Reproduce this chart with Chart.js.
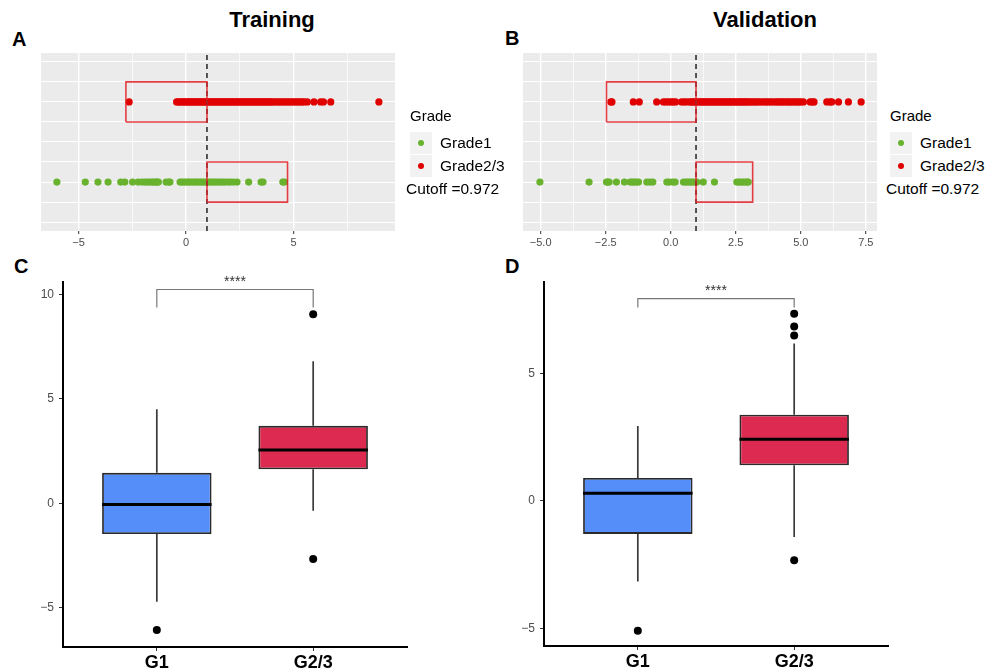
<!DOCTYPE html>
<html>
<head>
<meta charset="utf-8">
<script src="https://cdn.jsdelivr.net/npm/chart.js@4.4.1/dist/chart.umd.min.js"></script>
<style>
body { margin: 0; background: #fff; font-family: "Liberation Sans", Arial, sans-serif; }
#page { position: relative; width: 990px; height: 671px; overflow: hidden; }
canvas, .txt, .legend { position: absolute; }
.txt { white-space: nowrap; color: #000; }
.letter { font-weight: bold; font-size: 20px; line-height: 20px; }
.title { font-weight: bold; font-size: 22px; line-height: 22px; transform: translateX(-50%); }
.legend { width: 110px; height: 100px; }
.legend div { position: absolute; white-space: nowrap; }
.lg-title { font-size: 15px; line-height: 15px; }
.lg-key { width: 22px; height: 22px; background: #f2f2f2; }
.lg-dot { width: 6px; height: 6px; border-radius: 50%; left: 8px; top: 8px; }
.lg-label { font-size: 15.5px; line-height: 22px; }
</style>
</head>
<body>
<div id="page">
  <div class="txt letter" style="left:12px; top:29px;">A</div>
  <div class="txt title" style="left:272px; top:9px;">Training</div>
  <div class="txt letter" style="left:505px; top:28px;">B</div>
  <div class="txt title" style="left:765px; top:9px;">Validation</div>
  <div class="txt letter" style="left:14px; top:256px;">C</div>
  <div class="txt letter" style="left:505px; top:256px;">D</div>

  <canvas id="train_strip" width="400" height="205" style="left:0px; top:45px;"></canvas>
  <canvas id="valid_strip" width="400" height="205" style="left:482px; top:45px;"></canvas>
  <canvas id="train_box" width="420" height="401" style="left:0px; top:270px;"></canvas>
  <canvas id="valid_box" width="420" height="401" style="left:490px; top:270px;"></canvas>

  <div class="legend" id="train_legend" style="left:410px; top:108px;"></div>
  <div class="legend" id="valid_legend" style="left:890px; top:108px;"></div>
</div>
<script>
// ---- data ----
var cutoff = 0.972;
var grade_names = ['Grade1', 'Grade2/3'];
var group_names = ['G1', 'G2/3'];

// A: training risk scores
var train_grade1 = [-6.01, -4.69, -4.10, -3.63, -3.04, -2.85, -2.49, -2.23, -2.05, -1.92, -1.80, -1.68,
    -1.58, -1.50, -1.42, -1.35, -1.29, -0.93, -0.80, -0.75, -0.28, -0.18, -0.08, 0.02, 0.12, 0.22, 0.33,
    0.42, 0.52, 0.63, 0.72, 0.82, 0.93, 1.02, 1.12, 1.22, 1.33, 1.43, 1.55, 1.66, 1.78, 1.92, 2.05,
    2.20, 2.37, 2.91, 3.49, 3.58, 4.50, 4.58];
var train_grade23 = [-2.65, -0.44, -0.36, -0.28, -0.20, -0.12, -0.05, 0.03, 0.10, 0.18, 0.25, 0.33,
    0.40, 0.48, 0.55, 0.63, 0.70, 0.78, 0.85, 0.93, 1.00, 1.08, 1.15, 1.23, 1.30, 1.38, 1.45, 1.53,
    1.60, 1.68, 1.75, 1.83, 1.90, 1.98, 2.05, 2.13, 2.20, 2.28, 2.35, 2.43, 2.50, 2.58, 2.65, 2.73,
    2.80, 2.88, 2.95, 3.03, 3.10, 3.18, 3.25, 3.33, 3.40, 3.48, 3.55, 3.63, 3.70, 3.78, 3.85, 3.93,
    4.00, 4.10, 4.20, 4.30, 4.40, 4.50, 4.60, 4.70, 4.80, 4.90, 5.00, 5.10, 5.20, 5.30, 5.40, 5.50,
    5.64, 5.95, 6.26, 6.39, 6.73, 8.97];
var train_box_grade1 = [0.972, 4.72];
var train_box_grade23 = [-2.80, 0.972];
var train_x_breaks = [-5, 0, 5];
var train_x_labels = ['\u22125', '0', '5'];
var train_x_minor = [-2.5, 2.5, 7.5];

// B: validation risk scores
var valid_grade1 = [-5.03, -3.14, -2.47, -2.42, -2.37, -2.09, -1.78, -1.56, -1.48, -1.40, -1.32, -1.24,
    -0.92, -0.80, -0.69, -0.15, -0.05, 0.08, 0.17, 0.49, 0.58, 0.66, 0.74, 0.82, 0.90, 1.00, 1.25,
    1.68, 2.54, 2.62, 2.70, 2.78, 2.86, 2.94, 2.98];
var valid_grade23 = [-2.30, -2.26, -1.44, -1.21, -0.54, -0.28, -0.18, -0.08, 0.02, 0.10, 0.19, 0.42,
    0.52, 0.62, 0.74, 0.80, 0.87, 0.93, 1.00, 1.07, 1.13, 1.20, 1.27, 1.33, 1.40, 1.47, 1.53, 1.60,
    1.67, 1.73, 1.80, 1.87, 1.93, 2.00, 2.07, 2.13, 2.20, 2.27, 2.33, 2.40, 2.47, 2.53, 2.60, 2.67,
    2.73, 2.80, 2.87, 2.93, 3.00, 3.08, 3.16, 3.24, 3.32, 3.40, 3.50, 3.60, 3.68, 3.76, 3.85, 3.95,
    4.05, 4.12, 4.20, 4.28, 4.36, 4.45, 4.52, 4.60, 4.68, 4.76, 4.85, 4.92, 5.00, 5.10, 5.36, 5.45,
    5.51, 6.00, 6.12, 6.19, 6.45, 6.83, 7.32];
var valid_box_grade1 = [0.972, 3.15];
var valid_box_grade23 = [-2.47, 0.972];
var valid_x_breaks = [-5, -2.5, 0, 2.5, 5, 7.5];
var valid_x_labels = ['\u22125.0', '\u22122.5', '0.0', '2.5', '5.0', '7.5'];
var valid_x_minor = [-3.75, -1.25, 1.25, 3.75, 6.25];

// C: training boxplot stats (G1, G2/3)
var train_lower = [-4.71, -0.35];
var train_q1 = [-1.47, 1.63];
var train_median = [-0.05, 2.55];
var train_q3 = [1.46, 3.71];
var train_upper = [4.51, 6.81];
var train_outliers = [[-6.06], [9.06, -2.66]];
var train_bracket = [9.38, 10.24];
var train_y_breaks = [-5, 0, 5, 10];
var train_y_labels = ['\u22125', '0', '5', '10'];

// D: validation boxplot stats (G1, G2/3)
var valid_lower = [-3.15, -1.41];
var valid_q1 = [-1.29, 1.40];
var valid_median = [0.30, 2.42];
var valid_q3 = [0.90, 3.38];
var valid_upper = [2.94, 6.17];
var valid_outliers = [[-5.08], [7.33, 6.83, 6.48, -2.32]];
var valid_bracket = [7.58, 7.93];
var valid_y_breaks = [-5, 0, 5];
var valid_y_labels = ['\u22125', '0', '5'];

var sig_text = '****';

// ---- styles ----
var point_colors = ['#68b22e', '#e00000'];
var box_colors = ['#558ef8', '#dc2a50'];
var strip_y_grid = [0.5, 0.75, 1, 1.25, 1.5, 1.75, 2, 2.25, 2.5];

Chart.defaults.font.family = '"Liberation Sans", Arial, sans-serif';
Chart.defaults.animation = false;
Chart.defaults.events = [];
Chart.defaults.plugins.legend.display = false;
Chart.defaults.plugins.tooltip.enabled = false;

var panel_bg = {
    id: 'panel_bg',
    beforeDraw: function(chart, args, opts) {
        if (!opts.color) return;
        var a = chart.chartArea;
        var ctx = chart.ctx;
        ctx.save();
        ctx.fillStyle = opts.color;
        ctx.fillRect(a.left, a.top, a.right - a.left, a.bottom - a.top);
        ctx.restore();
    }
};

var sig_label = {
    id: 'sig_label',
    afterDatasetsDraw: function(chart, args, opts) {
        if (!opts.text) return;
        var x = chart.scales.x.getPixelForValue(opts.x);
        var y = chart.scales.y.getPixelForValue(opts.y);
        var ctx = chart.ctx;
        ctx.save();
        ctx.font = '14px "Liberation Sans", Arial, sans-serif';
        ctx.fillStyle = '#333';
        ctx.textAlign = 'center';
        ctx.textBaseline = 'alphabetic';
        ctx.fillText(opts.text, x, y - 4);
        ctx.restore();
    }
};

function point_set(label, values, level, color) {
    return {
        label: label,
        data: values.map(function(v) { return {x: v, y: level}; }),
        backgroundColor: color,
        borderColor: color,
        pointRadius: 3.6,
        pointBorderWidth: 0,
        order: 2
    };
}

function rect_set(range, level) {
    var h = 0.25;
    return {
        label: '',
        showLine: true,
        data: [
            {x: range[0], y: level - h}, {x: range[0], y: level + h},
            {x: range[1], y: level + h}, {x: range[1], y: level - h},
            {x: range[0], y: level - h}
        ],
        borderColor: 'rgba(226,30,36,0.85)',
        borderWidth: 1.6,
        pointRadius: 0,
        fill: false,
        order: 0
    };
}

function draw_strip(canvas_id, grade1, grade23, box1, box23, x_min, x_max, breaks, labels, minor) {
    var y_min = 0.39, y_max = 2.61;
    var ticks_all = breaks.concat(minor).sort(function(a, b) { return a - b; });
    var is_major = function(c) { return c.tick && breaks.indexOf(c.tick.value) >= 0; };
    var datasets = [
        point_set(grade_names[0], grade1, 1, point_colors[0]),
        point_set(grade_names[1], grade23, 2, point_colors[1]),
        rect_set(box1, 1),
        rect_set(box23, 2),
        {
            label: '',
            showLine: true,
            data: [{x: cutoff, y: y_min}, {x: cutoff, y: y_max}],
            borderColor: '#222',
            borderWidth: 1.5,
            borderDash: [5, 4],
            pointRadius: 0,
            order: 0
        }
    ];
    return new Chart(document.getElementById(canvas_id), {
        type: 'scatter',
        data: {datasets: datasets},
        plugins: [panel_bg],
        options: {
            responsive: false,
            maintainAspectRatio: false,
            layout: {padding: {left: 41, top: 8, right: 5, bottom: 0}},
            plugins: {panel_bg: {color: '#ebebeb'}},
            scales: {
                x: {
                    type: 'linear', min: x_min, max: x_max,
                    afterBuildTicks: function(s) { s.ticks = ticks_all.map(function(v) { return {value: v}; }); },
                    afterFit: function(s) { s.height = 19; },
                    border: {display: false},
                    grid: {
                        color: '#ffffff',
                        lineWidth: function(c) { return is_major(c) ? 1.4 : 0.7; },
                        tickLength: 3,
                        tickWidth: 1,
                        tickColor: function(c) { return is_major(c) ? '#333333' : 'rgba(0,0,0,0)'; }
                    },
                    ticks: {
                        autoSkip: false, maxRotation: 0, padding: 2,
                        color: '#4d4d4d', font: {size: 11},
                        callback: function(v) {
                            var i = breaks.indexOf(v);
                            return i >= 0 ? labels[i] : '';
                        }
                    }
                },
                y: {
                    type: 'linear', min: y_min, max: y_max,
                    afterBuildTicks: function(s) { s.ticks = strip_y_grid.map(function(v) { return {value: v}; }); },
                    afterFit: function(s) { s.width = 0; },
                    border: {display: false},
                    grid: {color: '#ffffff', lineWidth: 1.1, drawTicks: false},
                    ticks: {display: false}
                }
            }
        }
    });
}

function draw_boxplot(canvas_id, lower, q1, median, q3, upper, outliers, bracket, y_min, y_max, breaks, labels, pad, x_height) {
    var half = 0.35;
    var datasets = [{
        type: 'bar',
        label: '',
        data: group_names.map(function(g, i) { return {x: i + 1, y: [q1[i], q3[i]]}; }),
        backgroundColor: box_colors,
        borderColor: '#2a2a2a',
        borderWidth: 1.8,
        borderSkipped: false,
        categoryPercentage: 0.8,
        barPercentage: 0.875,
        order: 2
    }];
    group_names.forEach(function(g, i) {
        var x = i + 1;
        [[q3[i], upper[i]], [q1[i], lower[i]]].forEach(function(w) {
            datasets.push({
                label: '', showLine: true, pointRadius: 0,
                data: [{x: x, y: w[0]}, {x: x, y: w[1]}],
                borderColor: '#3a3a3a', borderWidth: 1.7, order: 3
            });
        });
        datasets.push({
            label: '', showLine: true, pointRadius: 0,
            data: [{x: x - half, y: median[i]}, {x: x + half, y: median[i]}],
            borderColor: '#000', borderWidth: 3, order: 0
        });
        datasets.push({
            label: '',
            data: outliers[i].map(function(v) { return {x: x, y: v}; }),
            backgroundColor: '#000', pointRadius: 4, pointBorderWidth: 0, order: 0
        });
    });
    datasets.push({
        label: '', showLine: true, pointRadius: 0,
        data: [{x: 1, y: bracket[0]}, {x: 1, y: bracket[1]}, {x: 2, y: bracket[1]}, {x: 2, y: bracket[0]}],
        borderColor: '#777', borderWidth: 1.2, order: 0
    });
    return new Chart(document.getElementById(canvas_id), {
        type: 'scatter',
        data: {datasets: datasets},
        plugins: [sig_label],
        options: {
            responsive: false,
            maintainAspectRatio: false,
            layout: {padding: pad},
            plugins: {sig_label: {text: sig_text, x: 1.5, y: bracket[1]}},
            scales: {
                x: {
                    type: 'linear', min: 0.4, max: 2.6, offset: false,
                    afterBuildTicks: function(s) { s.ticks = group_names.map(function(g, i) { return {value: i + 1}; }); },
                    afterFit: function(s) { s.height = x_height; },
                    border: {display: true, color: '#000', width: 2},
                    grid: {offset: false, drawOnChartArea: false, tickLength: 4, tickColor: '#333', tickWidth: 1},
                    ticks: {
                        autoSkip: false, maxRotation: 0, padding: 1,
                        color: '#000', font: {size: 18, weight: 'bold'},
                        callback: function(v) { return group_names[v - 1]; }
                    }
                },
                y: {
                    type: 'linear', min: y_min, max: y_max,
                    afterBuildTicks: function(s) { s.ticks = breaks.map(function(v) { return {value: v}; }); },
                    afterFit: function(s) { s.width = 48; },
                    border: {display: true, color: '#000', width: 2},
                    grid: {drawOnChartArea: false, tickLength: 4, tickColor: '#333', tickWidth: 1},
                    ticks: {
                        autoSkip: false, padding: 5,
                        color: '#4d4d4d', font: {size: 12},
                        callback: function(v) { return labels[breaks.indexOf(v)]; }
                    }
                }
            }
        }
    });
}

function draw_legend(el_id, chart) {
    var el = document.getElementById(el_id);
    var html = '<div class="lg-title" style="left:0px; top:0px;">Grade</div>';
    chart.data.datasets.slice(0, 2).forEach(function(ds, i) {
        var top = 24 + 23 * i;
        html += '<div class="lg-key" style="left:0px; top:' + top + 'px;">' +
            '<div class="lg-dot" style="background:' + ds.backgroundColor + ';"></div></div>';
        html += '<div class="lg-label" style="left:30px; top:' + top + 'px;">' + ds.label + '</div>';
    });
    html += '<div class="lg-label" style="left:-4px; top:70px;">Cutoff =' + cutoff + '</div>';
    el.innerHTML = html;
}

var train_chart = draw_strip('train_strip', train_grade1, train_grade23, train_box_grade1, train_box_grade23,
    -6.75, 9.72, train_x_breaks, train_x_labels, train_x_minor);
var valid_chart = draw_strip('valid_strip', valid_grade1, valid_grade23, valid_box_grade1, valid_box_grade23,
    -5.68, 7.93, valid_x_breaks, valid_x_labels, valid_x_minor);
draw_legend('train_legend', train_chart);
draw_legend('valid_legend', valid_chart);

draw_boxplot('train_box', train_lower, train_q1, train_median, train_q3, train_upper, train_outliers,
    train_bracket, -6.88, 10.59, train_y_breaks, train_y_labels, {left: 15, top: 12, right: 13, bottom: 0}, 24);
draw_boxplot('valid_box', valid_lower, valid_q1, valid_median, valid_q3, valid_upper, valid_outliers,
    valid_bracket, -5.68, 8.57, valid_y_breaks, valid_y_labels, {left: 6, top: 12, right: 22, bottom: 0}, 25);
</script>
</body>
</html>
